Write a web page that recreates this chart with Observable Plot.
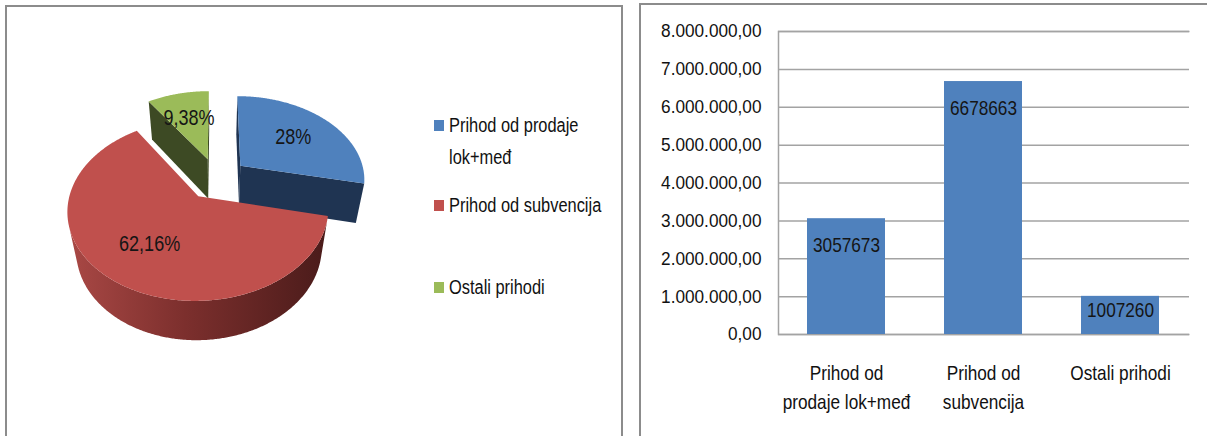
<!DOCTYPE html>
<html>
<head>
<meta charset="utf-8">
<script src="https://cdn.jsdelivr.net/npm/d3@7"></script>
<script src="https://cdn.jsdelivr.net/npm/@observablehq/plot@0.6"></script>
<style>
html, body { margin: 0; padding: 0; background: #fff; }
body { width: 1207px; height: 436px; position: relative; overflow: hidden;
  font-family: "Liberation Sans", Arial, sans-serif; }
.panel { position: absolute; border: 2px solid #8c8c8c; box-sizing: border-box; }
#leftPanel { left: 5px; top: 5px; width: 618px; height: 460px; }
#rightPanel { left: 639px; top: 3px; width: 620px; height: 470px; }
#pie { position: absolute; left: 0; top: 0; }
#bars { position: absolute; left: 641px; top: 0; }
#legend { position: absolute; left: 0; top: 0; font-size: 20px; color: #111; }
.item { position: absolute; left: 434px; }
.sw { position: absolute; left: 0; top: 11px; width: 10px; height: 11px; }
.lt { position: absolute; left: 15px; top: 0; width: 213px; line-height: 32px;
  transform: scaleX(0.82); transform-origin: 0 0; white-space: normal; }
</style>
</head>
<body>
<div class="panel" id="leftPanel"></div>
<div class="panel" id="rightPanel"></div>
<div id="pie"></div>
<div id="legend"></div>
<div id="bars"></div>
<script>
// ---- data ----
const categories = ["Prihod od prodaje lok+međ", "Prihod od subvencija", "Ostali prihodi"];
const axisLabels = ["Prihod od\nprodaje lok+međ", "Prihod od\nsubvencija", "Ostali prihodi"];
const values = [3057673, 6678663, 1007260];
const pieLabels = ["28%", "62,16%", "9,38%"];
const yTicks = [0, 1000000, 2000000, 3000000, 4000000, 5000000, 6000000, 7000000, 8000000];

// ---- styles ----
const topColors = ["#4f81bd", "#c0504d", "#9bbb59"];
const sideColors = ["#1f3452", "url(#redSide)", "#3d4a24"];
const FONT = "'Liberation Sans', Arial, sans-serif";

function squeezeText(root, factor) {
  root.querySelectorAll("text").forEach(t => {
    const x = t.getAttribute("x");
    if (x != null && !isNaN(+x)) t.setAttribute("x", +x / factor);
    const tr = t.getAttribute("transform") || "";
    t.setAttribute("transform", tr + ` scale(${factor},1)`);
  });
}

// ---- 3D pie geometry (projection of a tilted disc) ----
const SIN = 0.667, COS = 0.745, DIST = 5.04, THICK = 0.45, EXPLODE = 0.25;
const camera = [0, DIST * SIN, -DIST * COS];
function proj(X, Y, Z) {
  const yc = Y * COS + Z * SIN, zc = Z * COS - Y * SIN, p = DIST / (DIST + zc);
  return [X * p, yc * p, zc];
}
const arcs = d3.pie().sort(null).value(d => d)(values);
function origin(a) {
  const m = (a.startAngle + a.endAngle) / 2;
  return [EXPLODE * Math.sin(m), EXPLODE * Math.cos(m)];
}
function world(a, th, r, Y) {
  const [ox, oz] = origin(a);
  return [ox + r * Math.sin(th), Y, oz + r * Math.cos(th)];
}
function visible(n, P) {
  const v = [camera[0] - P[0], camera[1] - P[1], camera[2] - P[2]];
  return n[0] * v[0] + n[1] * v[1] + n[2] * v[2] > 0;
}
function angles(a0, a1) {
  const n = Math.max(2, Math.ceil((a1 - a0) / (Math.PI / 360)));
  return d3.range(n + 1).map(i => a0 + (a1 - a0) * i / n);
}
const sides = [];
arcs.forEach((a, i) => {
  // radial cut faces
  [[a.startAngle, -1], [a.endAngle, 1]].forEach(([th, sgn]) => {
    const n = [sgn * Math.cos(th), 0, -sgn * Math.sin(th)];
    const mid = world(a, th, 0.5, -THICK / 2);
    if (!visible(n, mid)) return;
    const pts = [world(a, th, 0, 0), world(a, th, 1, 0), world(a, th, 1, -THICK), world(a, th, 0, -THICK)];
    sides.push({pts, color: sideColors[i] === "url(#redSide)" ? "#6e2a28" : sideColors[i], depth: proj(...mid)[2]});
  });
  // outer curved side: visible angular run as a single polygon
  const vis = angles(a.startAngle, a.endAngle).filter(th => visible([Math.sin(th), 0, Math.cos(th)], world(a, th, 1, -THICK / 2)));
  if (vis.length > 1) {
    const topArc = vis.map(th => world(a, th, 1, 0));
    const botArc = vis.slice().reverse().map(th => world(a, th, 1, -THICK));
    const tm = vis[Math.floor(vis.length / 2)];
    sides.push({pts: [...topArc, ...botArc], color: sideColors[i], depth: proj(...world(a, tm, 1, -THICK / 2))[2]});
  }
});
sides.sort((p, q) => q.depth - p.depth);
const faces = [];
let fid = 0;
function addFace(pts, color) {
  const id = fid++;
  for (const P of pts) { const [x, y] = proj(...P); faces.push({id, x, y, color}); }
}
sides.forEach(s => addFace(s.pts, s.color));
arcs.forEach((a, i) => {
  const pts = [world(a, 0, 0, 0), ...angles(a.startAngle, a.endAngle).map(th => world(a, th, 1, 0))];
  addFace(pts, topColors[i]);
});
const labelPts = arcs.map((a, i) => {
  const [x, y] = proj(...world(a, (a.startAngle + a.endAngle) / 2, 0.6, 0));
  return {x, y, text: pieLabels[i]};
});

// pie panel: 1 unit = K px, pie origin at (CX, CY)
const PW = 621, PH = 436, K = 125, CX = 216, CY = 178;
const pie = Plot.plot({
  width: PW, height: PH, margin: 0,
  x: {domain: [-CX / K, (PW - CX) / K], axis: null},
  y: {domain: [-(PH - CY) / K, CY / K], axis: null},
  color: {type: "identity"},
  style: {background: "transparent", fontFamily: FONT},
  marks: [
    Plot.line(faces, {x: "x", y: "y", z: "id", fill: "color", stroke: "none"}),
    Plot.text(labelPts, {x: "x", y: "y", text: "text", fontSize: 22, fill: "#151515"})
  ]
});
// gradient definition for the shaded red side
const NS = "http://www.w3.org/2000/svg";
const defs = document.createElementNS(NS, "defs");
const grad = document.createElementNS(NS, "linearGradient");
grad.setAttribute("id", "redSide");
grad.setAttribute("x1", "0"); grad.setAttribute("x2", "1");
grad.setAttribute("y1", "0"); grad.setAttribute("y2", "0");
[["0", "#a94845"], ["0.45", "#7c2f2d"], ["1", "#4a1b1a"]].forEach(([o, c]) => {
  const s = document.createElementNS(NS, "stop");
  s.setAttribute("offset", o); s.setAttribute("stop-color", c);
  grad.appendChild(s);
});
defs.appendChild(grad);
pie.insertBefore(defs, pie.firstChild);
squeezeText(pie, 0.82);
document.getElementById("pie").appendChild(pie);

// legend
const legend = document.getElementById("legend");
const legendTops = [109, 189, 271];
categories.forEach((c, i) => {
  const div = document.createElement("div");
  div.className = "item";
  div.style.top = legendTops[i] + "px";
  const sw = document.createElement("span");
  sw.className = "sw";
  sw.style.background = topColors[i];
  const lt = document.createElement("div");
  lt.className = "lt";
  lt.textContent = c;
  div.appendChild(sw);
  div.appendChild(lt);
  legend.appendChild(div);
});

// ---- bar chart ----
const data = categories.map((c, i) => ({category: c, value: values[i]}));
const fmt = d3.formatLocale({decimal: ",", thousands: ".", grouping: [3], currency: ["", ""]}).format(",.2f");
const BW = 566, BH = 436, ML = 137, MR = 18, MT = 31, MB = 102;
const fw = BW - ML - MR, fh = BH - MT - MB;
const bars = Plot.plot({
  width: BW, height: BH, marginLeft: ML, marginRight: MR, marginTop: MT, marginBottom: MB,
  style: {background: "transparent", fontFamily: FONT, color: "#111"},
  x: {domain: categories, paddingInner: 0.43, paddingOuter: 0.215, label: null},
  y: {domain: [0, 8000000], label: null},
  marks: [
    Plot.ruleY(yTicks, {stroke: "#a3a3a3", strokeWidth: 1.5}),
    Plot.frame({stroke: "#a3a3a3", strokeWidth: 1.5, strokeDasharray: `${fw},${fh},${fw + fh}`}),
    Plot.barY(data, {x: "category", y: "value", fill: "#4f81bd"}),
    Plot.text(data, {filter: d => d.value > 2000000, x: "category", y: "value", text: d => String(d.value), dy: 27, fontSize: 21, fill: "#151515"}),
    Plot.text(data, {filter: d => d.value <= 2000000, x: "category", y: "value", text: d => String(d.value), dy: 14, fontSize: 21, fill: "#151515"}),
    Plot.axisY({ticks: yTicks, tickFormat: fmt, tickSize: 0, tickPadding: 17, fontSize: 18.5, label: null}),
    Plot.axisX({tickSize: 0, tickPadding: 26, fontSize: 21, lineHeight: 1.34, label: null,
      tickFormat: d => axisLabels[categories.indexOf(d)]})
  ]
});
// narrow text; y tick labels are a little wider in the reference
bars.querySelectorAll("g[aria-label='y-axis tick label']").forEach(g => squeezeText(g, 0.93));
bars.querySelectorAll("g:not([aria-label='y-axis tick label']) > text").forEach(t => {
  const x = t.getAttribute("x");
  if (x != null && !isNaN(+x)) t.setAttribute("x", +x / 0.82);
  t.setAttribute("transform", (t.getAttribute("transform") || "") + " scale(0.82,1)");
});
document.getElementById("bars").appendChild(bars);
</script>
</body>
</html>
